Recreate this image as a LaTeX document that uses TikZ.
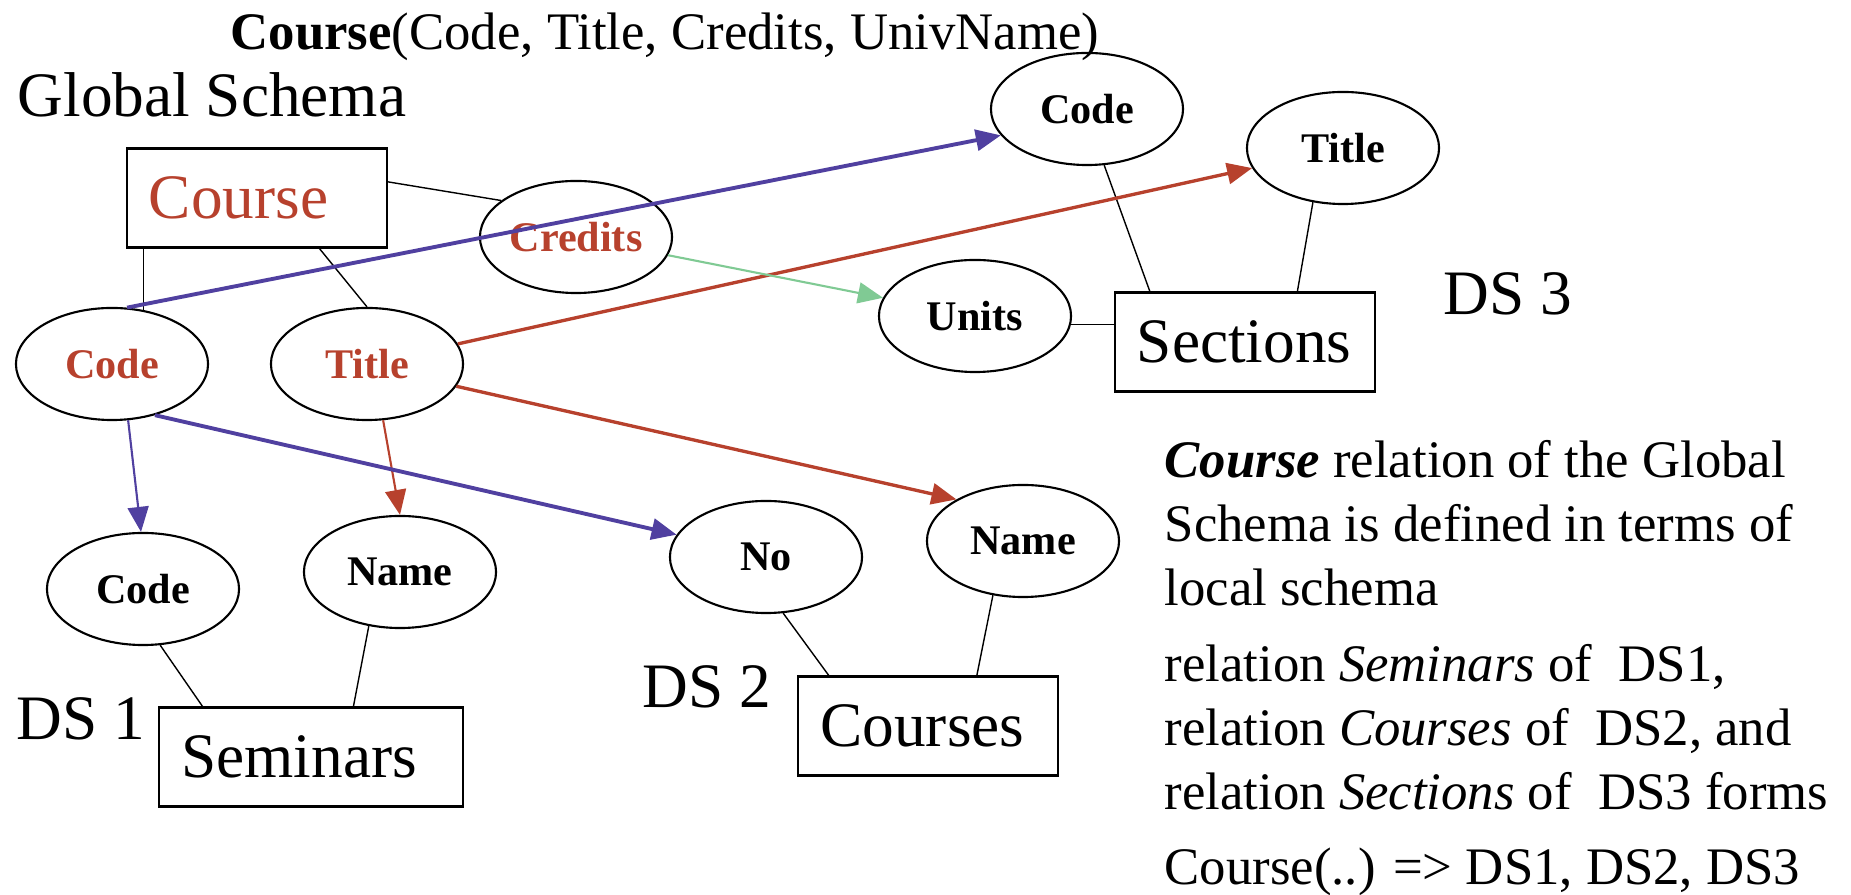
\documentclass[tikz,border=0pt]{standalone}
\usepackage{fontspec}
\setmainfont{Liberation Serif}
\usepackage{xcolor}
\usetikzlibrary{shapes.geometric, arrows.meta}

\definecolor{gred}{RGB}{183,65,45}
\definecolor{gblue}{RGB}{80,64,160}
\definecolor{ggreen}{RGB}{128,202,148}

\begin{document}
\begin{tikzpicture}[x=0.01cm, y=-0.01cm,
  attr/.style={ellipse, draw, line width=0.6pt, minimum width=1.92cm, minimum height=1.12cm, inner sep=0pt, font=\fontsize{12}{14}\selectfont\bfseries},
  rel/.style={rectangle, draw, line width=0.6pt, minimum height=0.99cm, inner xsep=0.22cm, inner ysep=0pt, align=left, font=\fontsize{18}{21}\selectfont},
  big/.style={font=\fontsize{18}{21}\selectfont, inner sep=0pt},
  link/.style={line width=0.4pt},
  map/.style={-{Triangle[length=0.25cm, width=0.21cm]}}]

\useasboundingbox (0,0) rectangle (1851,895);

% Schema global
\node[anchor=base west, inner sep=0pt, font=\fontsize{15}{18}\selectfont] (head) at (230,50) {\textbf{Course}(Code, Title, Credits, UnivName)};
\node[big, anchor=base west] (gs) at (17,117) {Global Schema};
\node[rel, text width=2.16cm, text=gred] (course) at (257,198) {Course};
\node[attr, text=gred] (credits) at (576,237) {Credits};
\node[attr, text=gred] (gcode) at (112,364) {Code};
\node[attr, text=gred] (gtitle) at (367,364) {Title};

% DS 1
\node[attr] (dcode) at (143,589) {Code};
\node[attr] (dname) at (400,572) {Name};
\node[rel, text width=2.59cm] (seminars) at (311,757) {Seminars};
\node[big, anchor=base west] (ds1) at (16,740) {DS 1};

% DS 2
\node[attr] (dno) at (766,557) {No};
\node[attr] (cname) at (1023,541) {Name};
\node[rel, text width=2.15cm] (courses) at (928,726) {Courses};
\node[big, anchor=base west] (ds2) at (642,708) {DS 2};

% DS 3
\node[attr] (scode) at (1087,109) {Code};
\node[attr] (stitle) at (1343,148) {Title};
\node[attr] (units) at (975,316) {Units};
\node[rel, text width=2.16cm] (sections) at (1245,342) {Sections};
\node[big, anchor=base west] (ds3) at (1443,315) {DS 3};

% texto
\node[anchor=base west, align=left, inner sep=0pt, font=\fontsize{15}{18.2}\selectfont] (note) at (1164,885)
  {\textbf{\textit{Course}} relation of the Global\\
   Schema is defined in terms of\\
   local schema\\[0.12cm]
   relation \textit{Seminars} of~ DS1,\\
   relation \textit{Courses} of~ DS2, and\\
   relation \textit{Sections} of~ DS3 forms\\[0.11cm]
   Course(..) => DS1, DS2, DS3};

% atributos
\draw[link] (course.7) -- (credits.154);
\draw[link] (gcode.60) -- (gcode.60 |- course.south);
\draw[link] (course.-39) -- (gtitle.north);
\draw[link] (scode.-73) -- (sections.152);
\draw[link] (stitle.-119) -- (sections.44);
\draw[link] (units.-5) -- (units.-5 -| sections.west);
\draw[link] (dcode.-73) -- (seminars.155);
\draw[link] (dname.-120) -- (seminars.50);
\draw[link] (dno.-73) -- (courses.153);
\draw[link] (cname.-119) -- (courses.46);

% mapeamentos
\draw[map, gblue, line width=1.1pt] (gcode.75) -- (scode.197);
\draw[map, gred, line width=0.95pt] (gtitle) -- (stitle);
\draw[map, ggreen, line width=0.6pt] (credits) -- (units);
\draw[map, gblue, line width=0.6pt] (gcode.-74) -- (dcode.92);
\draw[map, gred, line width=0.6pt] (gtitle.-74) -- (dname.north);
\draw[map, gblue, line width=1.1pt] (gcode.-50) -- (dno.166);
\draw[map, gred, line width=0.95pt] (gtitle.-14) -- (cname.148);

\end{tikzpicture}
\end{document}
